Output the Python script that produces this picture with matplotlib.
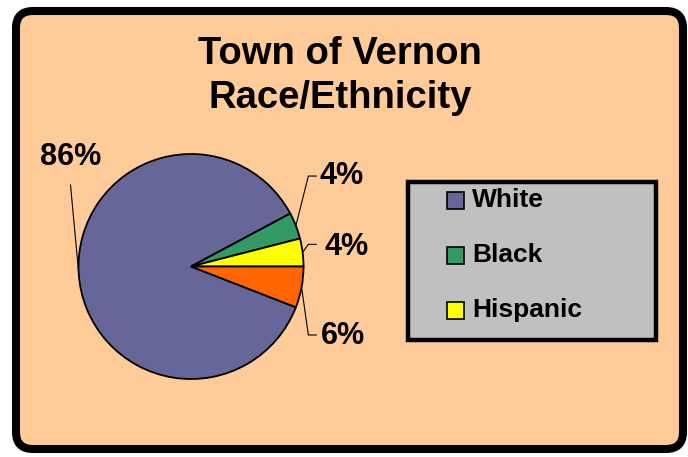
import numpy as np
import matplotlib.pyplot as plt
from matplotlib.patches import FancyBboxPatch, Rectangle

plt.rcParams['font.family'] = ['Liberation Sans', 'DejaVu Sans']

# datos del grafico
grupos = ['White', 'Black', 'Hispanic', 'Other']
porcentajes = [86.3, 3.8, 4.0, 5.9]
colores = ['#666699', '#339966', '#FFFF00', '#FF6600']
titulo = 'Town of Vernon\nRace/Ethnicity'
en_leyenda = 3  # la leyenda original solo muestra tres grupos

W, H = 688, 457
fig = plt.figure(figsize=(W / 100, H / 100), dpi=100)
fig.patch.set_facecolor('white')
px = fig.dpi_scale_trans  # coordenadas en pulgadas (1 in = 100 px)

# marco redondeado de fondo (detras del pastel)
marco = FancyBboxPatch((0.16, 0.08), 6.67, 4.38,
                       boxstyle='round,pad=0,rounding_size=0.17',
                       transform=px, facecolor='#FFCC99',
                       edgecolor='black', linewidth=5.8, zorder=-10)
fig.patches.append(marco)

# titulo
fig.text(340 / W, 1 - 76 / H, titulo, ha='center', va='center',
         fontsize=27.5, fontweight='bold', linespacing=1.3)

# pastel
cx, cy, r = 191, 266.5, 112.5
ax = fig.add_axes([(cx - r) / W, (H - cy - r) / H, 2 * r / W, 2 * r / H])
wedges, _ = ax.pie(porcentajes, colors=colores,
                   startangle=-porcentajes[-1] * 3.6, counterclock=False,
                   wedgeprops=dict(edgecolor='black', linewidth=1.3))
ax.set_xlim(-1, 1)
ax.set_ylim(-1, 1)
ax.axis('off')

# etiquetas con lineas guia
pos_texto = [(-1.067, 0.969), (1.342, 0.804), (1.382, 0.173), (1.347, -0.618)]
codos = [(-1.071, 0.724), (1.043, 0.804), (1.043, 0.197), (1.043, -0.609)]
for i, w in enumerate(wedges):
    mid = np.deg2rad((w.theta1 + w.theta2) / 2)
    ax0, ay0 = np.cos(mid), np.sin(mid)
    if i == 0:
        xs, ys = [ax0, codos[i][0]], [ay0, codos[i][1]]
    else:
        xs = [ax0, codos[i][0], codos[i][0] + 0.07]
        ys = [ay0, codos[i][1], codos[i][1]]
    ax.plot(xs, ys, color='black', linewidth=0.8, clip_on=False)
    ax.text(pos_texto[i][0], pos_texto[i][1], f'{porcentajes[i]:.0f}%',
            ha='center', va='center', fontsize=22, fontweight='bold')

# leyenda dibujada a mano
caja = Rectangle((4.08, 1.17), 2.48, 1.58, transform=px,
                 facecolor='#C0C0C0', edgecolor='black', linewidth=3.2)
fig.patches.append(caja)
filas = [200, 255, 310]
for nombre, color, fy in zip(grupos[:en_leyenda], colores, filas):
    fig.patches.append(Rectangle((4.465, (H - fy - 8.5) / 100), 0.17, 0.17,
                                 transform=px, facecolor=color,
                                 edgecolor='black', linewidth=1.2))
    fig.text(4.72, (H - fy) / 100, nombre, transform=px, ha='left',
             va='center', fontsize=19, fontweight='bold')

fig.savefig('out.png', dpi=100)
